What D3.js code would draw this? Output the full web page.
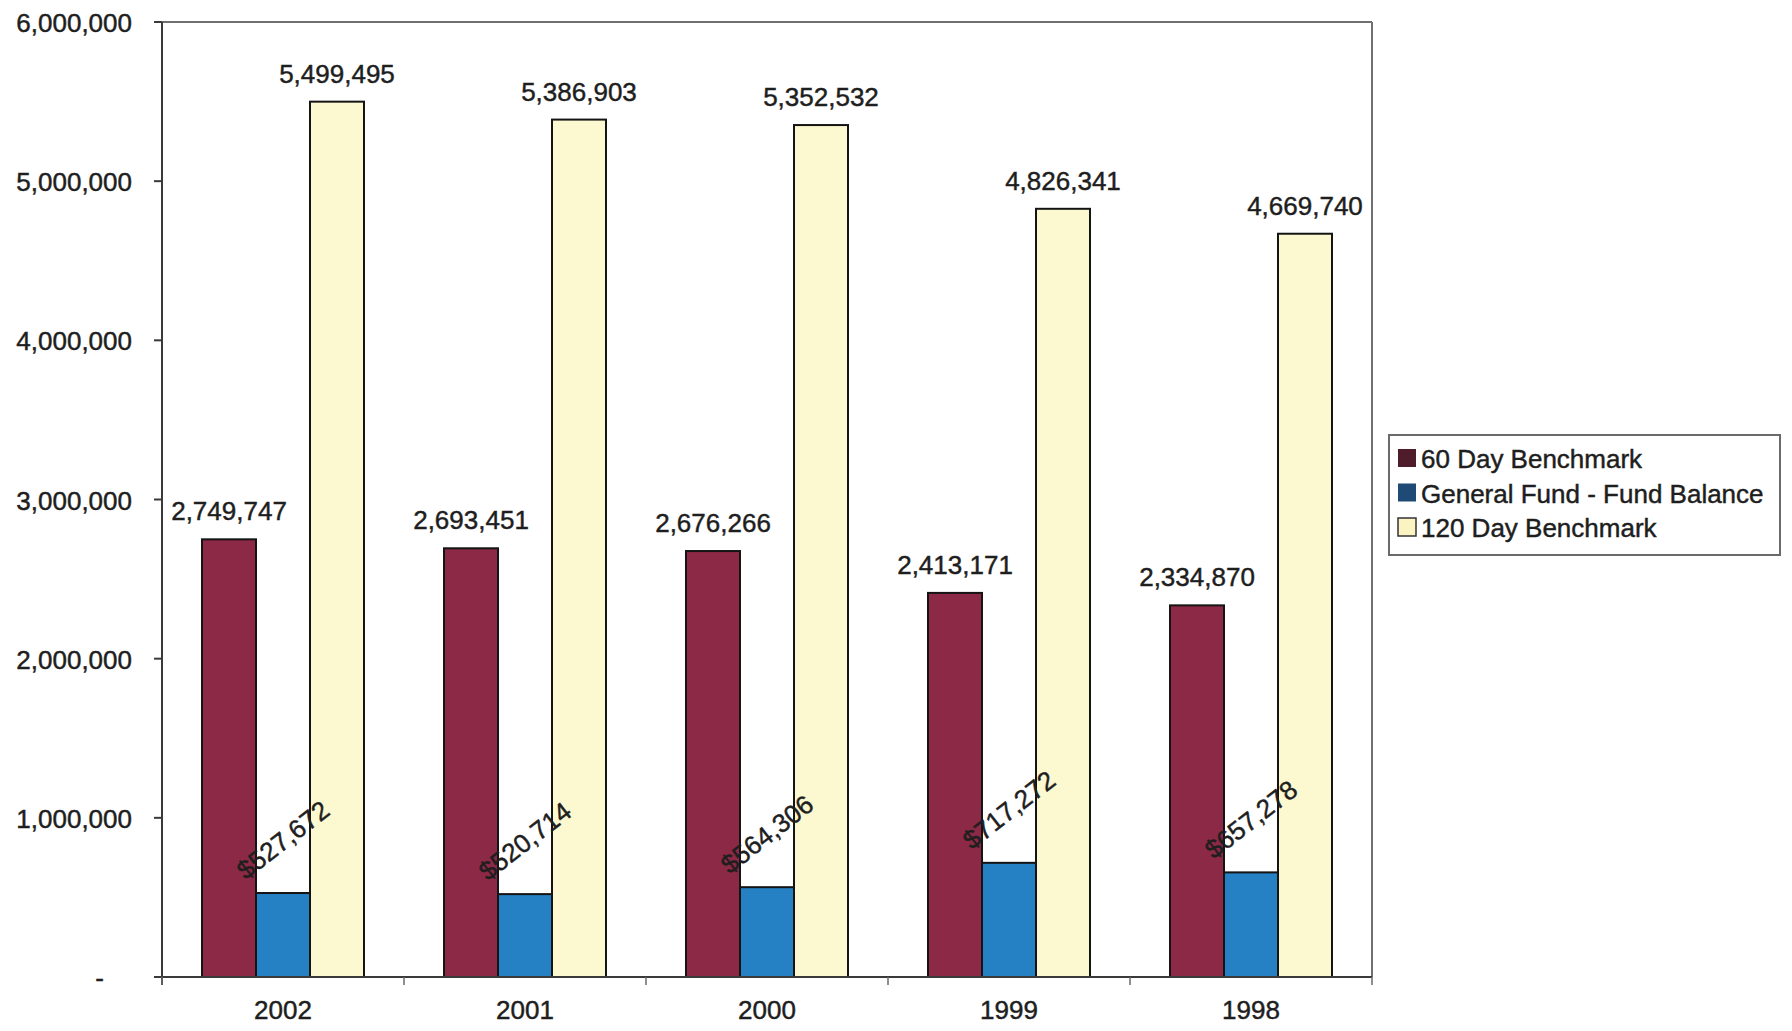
<!DOCTYPE html>
<html>
<head>
<meta charset="utf-8">
<script src="https://cdn.jsdelivr.net/npm/d3@7"></script>
<style>
  html, body { margin: 0; padding: 0; background: #ffffff; }
  svg { display: block; }
  text { font-family: "Liberation Sans", Arial, sans-serif; fill: #1e1e1e; stroke: #1e1e1e; stroke-width: 0.45px; }
</style>
</head>
<body>
<svg id="chart" width="1792" height="1031"></svg>
<script>
// ---- Data ----
const years = ["2002", "2001", "2000", "1999", "1998"];
const seriesNames = ["60 Day Benchmark", "General Fund - Fund Balance", "120 Day Benchmark"];
const benchmark60 = [2749747, 2693451, 2676266, 2413171, 2334870];
const fundBalance = [527672, 520714, 564306, 717272, 657278];
const benchmark120 = [5499495, 5386903, 5352532, 4826341, 4669740];
const yTicks = [0, 1000000, 2000000, 3000000, 4000000, 5000000, 6000000];

const barColors = ["#8c2946", "#2580c4", "#fcf8cf"];
const swatchColors = ["#4e1c2b", "#1f4a75", "#fbf3c2"];

// ---- Layout ----
const svg = d3.select("#chart");
const plot = { left: 162, right: 1372, top: 22, bottom: 977 };
const FS = 26;

const x0 = d3.scaleBand()
  .domain(years)
  .range([plot.left, plot.right])
  .paddingInner(80 / 242)
  .paddingOuter(40 / 242);

const x1 = d3.scaleBand()
  .domain(seriesNames)
  .range([0, x0.bandwidth()]);

const y = d3.scaleLinear().domain([0, 6000000]).range([plot.bottom, plot.top]);

const seriesValues = [benchmark60, fundBalance, benchmark120];
const rows = years.map((yr, i) => ({
  year: yr,
  values: seriesNames.map((s, k) => ({ series: s, k, value: seriesValues[k][i] }))
}));

// ---- Plot border (top & right) ----
svg.append("line")
  .attr("x1", plot.left).attr("x2", plot.right)
  .attr("y1", plot.top).attr("y2", plot.top)
  .attr("stroke", "#707070").attr("stroke-width", 2);
svg.append("line")
  .attr("x1", plot.right).attr("x2", plot.right)
  .attr("y1", plot.top).attr("y2", plot.bottom)
  .attr("stroke", "#707070").attr("stroke-width", 2);

// ---- Bars ----
const groups = svg.append("g").selectAll("g")
  .data(rows).join("g")
  .attr("transform", d => `translate(${x0(d.year)},0)`);

groups.selectAll("rect")
  .data(d => d.values).join("rect")
  .attr("x", d => x1(d.series))
  .attr("y", d => y(d.value))
  .attr("width", x1.bandwidth())
  .attr("height", d => y(0) - y(d.value))
  .attr("fill", d => barColors[d.k])
  .attr("stroke", "#141414")
  .attr("stroke-width", 2);

// ---- Value labels ----
const fmt = d3.format(",");
groups.selectAll("text.val")
  .data(d => d.values.filter(v => v.k !== 1)).join("text")
  .attr("class", "val")
  .attr("x", d => x1(d.series) + x1.bandwidth() / 2)
  .attr("y", d => y(d.value) - 19)
  .attr("text-anchor", "middle")
  .attr("font-size", FS)
  .text(d => fmt(d.value));

groups.selectAll("text.fund")
  .data(d => d.values.filter(v => v.k === 1)).join("text")
  .attr("class", "fund")
  .attr("text-anchor", "middle")
  .attr("dominant-baseline", "central")
  .attr("font-size", FS)
  .attr("transform", d => `translate(${x1(d.series) + x1.bandwidth() / 2},${y(d.value) - 53}) rotate(-38)`)
  .text(d => "$" + fmt(d.value));

// ---- Y axis ----
const yAxisG = svg.append("g");
yAxisG.append("line")
  .attr("x1", plot.left).attr("x2", plot.left)
  .attr("y1", plot.top).attr("y2", plot.bottom + 8)
  .attr("stroke", "#3a3a3a").attr("stroke-width", 2);
yAxisG.selectAll("line.tick")
  .data(yTicks).join("line")
  .attr("class", "tick")
  .attr("x1", plot.left - 8).attr("x2", plot.left)
  .attr("y1", d => y(d)).attr("y2", d => y(d))
  .attr("stroke", "#3a3a3a").attr("stroke-width", 2);
yAxisG.selectAll("text")
  .data(yTicks).join("text")
  .attr("x", d => d === 0 ? 104 : 132)
  .attr("y", d => y(d) + 1)
  .attr("text-anchor", "end")
  .attr("dominant-baseline", "central")
  .attr("font-size", FS)
  .text(d => d === 0 ? "-" : fmt(d));

// ---- X axis ----
const xAxisG = svg.append("g");
xAxisG.append("line")
  .attr("x1", plot.left - 8).attr("x2", plot.right)
  .attr("y1", plot.bottom).attr("y2", plot.bottom)
  .attr("stroke", "#3a3a3a").attr("stroke-width", 2);
const boundaries = years.map(yr => x0(yr) - x0.step() * x0.paddingInner() / 2).concat([plot.right]);
xAxisG.selectAll("line.tick")
  .data(boundaries).join("line")
  .attr("class", "tick")
  .attr("x1", d => d).attr("x2", d => d)
  .attr("y1", plot.bottom).attr("y2", plot.bottom + 8)
  .attr("stroke", "#6a6a6a").attr("stroke-width", 1.5);
xAxisG.selectAll("text")
  .data(years).join("text")
  .attr("x", d => x0(d) + x0.bandwidth() / 2)
  .attr("y", 1019)
  .attr("text-anchor", "middle")
  .attr("font-size", FS)
  .text(d => d);

// ---- Legend ----
const legend = svg.append("g");
legend.append("rect")
  .attr("x", 1389).attr("y", 435)
  .attr("width", 391).attr("height", 120)
  .attr("fill", "#ffffff")
  .attr("stroke", "#6a6a6a").attr("stroke-width", 2);
const items = legend.selectAll("g.item")
  .data(seriesNames).join("g")
  .attr("class", "item")
  .attr("transform", (d, i) => `translate(1398,${458 + i * 34.5})`);
items.append("rect")
  .attr("x", 0).attr("y", -9)
  .attr("width", 18).attr("height", 18)
  .attr("fill", (d, i) => swatchColors[i])
  .attr("stroke", (d, i) => i === 2 ? "#333" : "none")
  .attr("stroke-width", 1.5);
items.append("text")
  .attr("x", 23).attr("y", 1)
  .attr("dominant-baseline", "central")
  .attr("font-size", FS)
  .text(d => d);
</script>
</body>
</html>
